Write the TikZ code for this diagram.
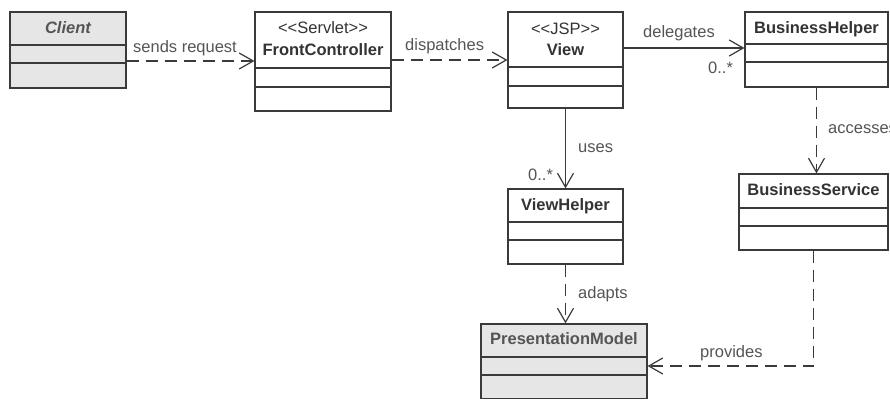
\documentclass[tikz,border=0pt]{standalone}
\usepackage{fontspec}
\setmainfont{Liberation Sans}
\usetikzlibrary{arrows.meta,fit}
\definecolor{linec}{HTML}{3A3A3A}
\definecolor{namec}{HTML}{333333}
\definecolor{labc}{HTML}{555555}
\definecolor{shade}{HTML}{E6E6E6}
\begin{document}
\begin{tikzpicture}[x=1pt,y=-1pt,
  font=\fontsize{16.5}{19}\selectfont,
  box/.style={draw=linec, line width=1.2pt, inner sep=0pt, fill=white},
  shaded/.style={box, fill=shade},
  part/.style={draw=linec, line width=1.2pt},
  title/.style={anchor=base, inner sep=0pt, text=namec},
  cname/.style={title, font=\fontsize{16.5}{19}\selectfont\bfseries},
  lab/.style={anchor=base west, inner sep=0pt, text=labc},
  tipV/.style={-{Straight Barb[length=14pt,width=16pt]}},
  dep/.style={draw=linec, line width=1.2pt, dash pattern=on 12pt off 7pt, tipV},
  assoc/.style={draw=linec, line width=1.2pt, tipV}]
\useasboundingbox (0,0) rectangle (890,400);
\fill[white] (0,0) rectangle (890,400);
\clip (0,0) rectangle (890,400);

% class boxes
\node[shaded, fit={(10,12) (126,88)}] (cl) {};
\node[box, fit={(255,12) (391,111)}] (fc) {};
\node[box, fit={(508,12) (623,108)}] (view) {};
\node[box, fit={(745,12) (888,87)}] (bh) {};
\node[box, fit={(739,174) (888,250)}] (bs) {};
\node[box, fit={(508,189) (623,264)}] (vh) {};
\node[shaded, fit={(481,324) (647,398.5)}] (pm) {};

% compartments
\draw[part] (cl.west |- 0,45) -- (cl.east |- 0,45) (cl.west |- 0,63) -- (cl.east |- 0,63);
\draw[part] (fc.west |- 0,68) -- (fc.east |- 0,68) (fc.west |- 0,87) -- (fc.east |- 0,87);
\draw[part] (view.west |- 0,67) -- (view.east |- 0,67) (view.west |- 0,86) -- (view.east |- 0,86);
\draw[part] (bh.west |- 0,44) -- (bh.east |- 0,44) (bh.west |- 0,62) -- (bh.east |- 0,62);
\draw[part] (bs.west |- 0,208) -- (bs.east |- 0,208) (bs.west |- 0,226) -- (bs.east |- 0,226);
\draw[part] (vh.west |- 0,222) -- (vh.east |- 0,222) (vh.west |- 0,240) -- (vh.east |- 0,240);
\draw[part] (pm.west |- 0,357) -- (pm.east |- 0,357) (pm.west |- 0,375) -- (pm.east |- 0,375);

% class names
\node[cname, text=labc, font=\fontsize{16.5}{19}\selectfont\bfseries\itshape] (clT) at (cl.north |- 0,33) {Client};
\node[title] (fcS) at (fc.north |- 0,33) {<{}<Servlet>{}>};
\node[cname] (fcT) at (fc.north |- 0,55) {FrontController};
\node[title] (viewS) at (view.north |- 0,34) {<{}<JSP>{}>};
\node[cname] (viewT) at (view.north |- 0,55) {View};
\node[cname] (bhT) at (bh.north |- 0,33) {BusinessHelper};
\node[cname] (bsT) at (bs.north |- 0,195) {BusinessService};
\node[cname] (vhT) at (vh.north |- 0,210) {ViewHelper};
\node[cname, text=labc] (pmT) at (pm.north |- 0,344) {PresentationModel};

% connectors
\draw[dep] (cl.east |- 0,61) -- (fc.west |- 0,61);
\draw[dep] (fc.east |- 0,60) -- (view.west |- 0,60);
\draw[assoc] (view.east |- 0,48) -- (bh.west |- 0,48);
\draw[assoc] (view.south) -- (vh.north);
\draw[dep] (bh.south) -- (bh.south |- bs.north);
\draw[dep] (vh.south) -- (vh.south |- pm.north);
\draw[dep] (bs.south) |- (pm.east |- 0,366);

% connector labels
\node[lab] (l1) at (133,52) {sends request};
\node[lab] (l2) at (405,50) {dispatches};
\node[lab] (l3) at (643,37) {delegates};
\node[lab] (m1) at (708,73) {0..*};
\node[lab] (l4) at (578,152) {uses};
\node[lab] (m2) at (528,180) {0..*};
\node[lab] (l5) at (828,133) {accesses};
\node[lab] (l6) at (578,298) {adapts};
\node[lab] (l7) at (700,357) {provides};
\end{tikzpicture}
\end{document}
